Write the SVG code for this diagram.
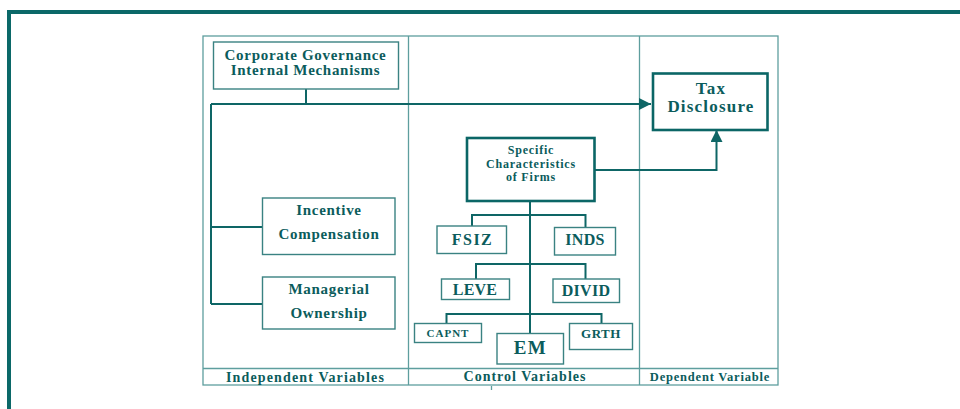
<svg xmlns="http://www.w3.org/2000/svg" width="960" height="409" viewBox="0 0 960 409">
<defs>
<style>
.frame{fill:none;stroke:#5e9e9e;stroke-width:1.3}
.box{fill:#fff;stroke:#3a8282;stroke-width:1.4}
.tbox{fill:#fff;stroke:#0b6666;stroke-width:2.6}
.conn{fill:none;stroke:#0e6666;stroke-width:2}
text{font-family:"Liberation Serif","Times New Roman",serif;font-weight:bold;fill:#0b5c5c;text-anchor:middle}
</style>
<marker id="arr" markerUnits="userSpaceOnUse" markerWidth="14" markerHeight="12" refX="12" refY="6" orient="auto">
<path d="M0,0 L12,6 L0,12 Z" fill="#0e6666"/>
</marker>
</defs>
<rect x="0" y="0" width="960" height="409" fill="#fff"/>
<!-- page frame -->
<rect x="7" y="10" width="953" height="4" fill="#0b6868"/>
<rect x="7" y="10" width="4" height="399" fill="#0b6868"/>
<!-- table -->
<g id="table">
<rect class="frame" x="203" y="36" width="575" height="349"/>
<line class="frame" x1="408.5" y1="36" x2="408.5" y2="385"/>
<line class="frame" x1="639.5" y1="36" x2="639.5" y2="385"/>
<line class="frame" x1="203" y1="368.5" x2="778" y2="368.5"/>
<line class="frame" x1="491.5" y1="386" x2="491.5" y2="390" stroke-width="1"/>
<text x="305.5" y="381.5" font-size="14" letter-spacing="1.15">Independent Variables</text>
<text x="525" y="381" font-size="14" letter-spacing="1">Control Variables</text>
<text x="710" y="381" font-size="12.5" letter-spacing="0.8">Dependent Variable</text>
</g>
<!-- connectors -->
<g id="connectors">
<path class="conn" d="M306,89 V104"/>
<path class="conn" d="M211,104 H651" marker-end="url(#arr)"/>
<path class="conn" d="M211,104 V304"/>
<path class="conn" d="M211,227 H262"/>
<path class="conn" d="M211,304 H262"/>
<path class="conn" d="M594,170 H716.5 V130" marker-end="url(#arr)"/>
<path class="conn" d="M530,201 V333"/>
<path class="conn" d="M472,226 V215 H585.5 V227"/>
<path class="conn" d="M476,279 V264 H585.5 V279"/>
<path class="conn" d="M446.5,323 V314 H601.5 V323"/>
</g>
<g id="cg">
<rect class="box" x="213.5" y="42" width="185" height="47"/>
<text x="305.5" y="59.5" font-size="15" letter-spacing="0.7">Corporate Governance</text>
<text x="305.5" y="74.5" font-size="15" letter-spacing="0.7">Internal Mechanisms</text>
</g>
<g id="incentive">
<rect class="box" x="262.5" y="198" width="132.5" height="56.5"/>
<text x="329" y="214.5" font-size="15" letter-spacing="0.7">Incentive</text>
<text x="329" y="238.5" font-size="15" letter-spacing="0.7">Compensation</text>
</g>
<g id="managerial">
<rect class="box" x="262.5" y="277" width="132.5" height="52"/>
<text x="329" y="293.5" font-size="15" letter-spacing="0.7">Managerial</text>
<text x="329" y="317.5" font-size="15" letter-spacing="0.7">Ownership</text>
</g>
<g id="tax">
<rect class="tbox" x="653" y="73.5" width="114.5" height="56.5"/>
<text x="711" y="93.5" font-size="17" letter-spacing="1.2">Tax</text>
<text x="711" y="111.5" font-size="17" letter-spacing="1.2">Disclosure</text>
</g>
<g id="specific">
<rect class="tbox" x="467" y="138" width="127.5" height="63"/>
<text x="531" y="154" font-size="12" letter-spacing="0.8">Specific</text>
<text x="531" y="167.5" font-size="12" letter-spacing="0.8">Characteristics</text>
<text x="531" y="181" font-size="12" letter-spacing="0.8">of Firms</text>
</g>
<g id="fsiz">
<rect class="box" x="437" y="226" width="69.5" height="27.5"/>
<text x="472.5" y="244.5" font-size="16" letter-spacing="1.5">FSIZ</text>
</g>
<g id="inds">
<rect class="box" x="554.5" y="227.5" width="61" height="27.5"/>
<text x="585" y="244.5" font-size="16" letter-spacing="0.3">INDS</text>
</g>
<g id="leve">
<rect class="box" x="441.5" y="279" width="68" height="20.5"/>
<text x="475" y="295" font-size="16" letter-spacing="0.2">LEVE</text>
</g>
<g id="divid">
<rect class="box" x="553" y="279" width="66.5" height="23.5"/>
<text x="586" y="295.5" font-size="16" letter-spacing="0.3">DIVID</text>
</g>
<g id="capnt">
<rect class="box" x="414.5" y="323.5" width="67" height="19"/>
<text x="448" y="336.5" font-size="11" letter-spacing="1">CAPNT</text>
</g>
<g id="grth">
<rect class="box" x="569.5" y="323.5" width="63" height="26"/>
<text x="601" y="337.5" font-size="13" letter-spacing="0.5">GRTH</text>
</g>
<g id="em">
<rect class="box" x="497" y="333.5" width="66.5" height="30.5"/>
<text x="530.5" y="354" font-size="19" letter-spacing="1.5">EM</text>
</g>
</svg>
